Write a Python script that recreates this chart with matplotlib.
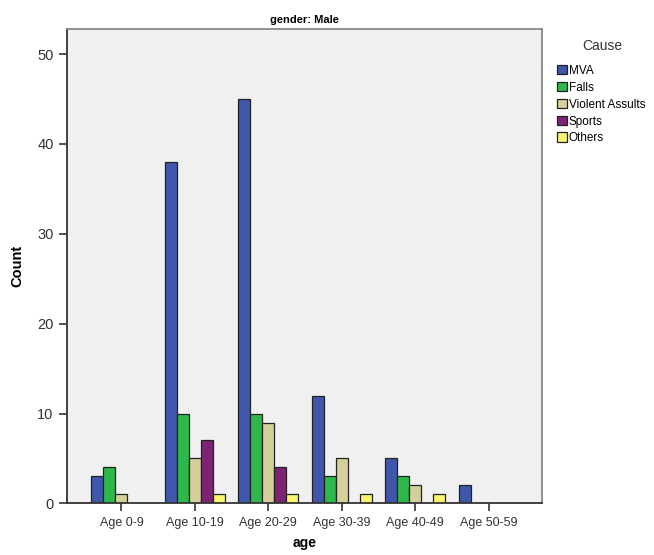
import matplotlib
matplotlib.use("Agg")
import matplotlib.pyplot as plt
import numpy as np

# data
ages = ["Age 0-9", "Age 10-19", "Age 20-29", "Age 30-39", "Age 40-49", "Age 50-59"]
causes = ["MVA", "Falls", "Violent Assults", "Sports", "Others"]
mva = [3, 38, 45, 12, 5, 2]
falls = [4, 10, 10, 3, 3, 0]
violent = [1, 5, 9, 5, 2, 0]
sports = [0, 7, 4, 0, 0, 0]
others = [0, 1, 1, 1, 1, 0]
colors = ["#3F57AA", "#2EB84B", "#D5D09A", "#7D2275", "#F9F66E"]

plt.rcParams['font.family'] = ['Liberation Sans', 'DejaVu Sans']

fig = plt.figure(figsize=(6.54, 5.55), dpi=100)
ax = fig.add_axes([0.102, 0.093, 0.727, 0.855])
ax.set_facecolor("#F0F0F0")

x = np.arange(len(ages))
w = 0.163
series = [mva, falls, violent, sports, others]
for i, (vals, c, name) in enumerate(zip(series, colors, causes)):
    vals = np.array(vals)
    pos = x + (i - 2) * w
    # zero counts get no bar
    m = vals > 0
    ax.bar(pos[m], vals[m], width=w, color=c, edgecolor="#222222", linewidth=0.9, label=name)

ax.set_xlim(-0.745, 5.73)
ax.set_ylim(0, 52.8)
ax.set_yticks([0, 10, 20, 30, 40, 50])
ax.set_xticks(x)
ax.set_xticklabels(ages, fontsize=9, color="#333333")
ax.tick_params(axis="y", labelsize=10.5, colors="#333333", length=6, width=1.2)
ax.tick_params(axis="x", length=6, width=1.2, color="#333333", pad=4)

for s in ["left", "bottom"]:
    ax.spines[s].set_color("#333333")
    ax.spines[s].set_linewidth(1.3)
for s in ["top", "right"]:
    ax.spines[s].set_color("#888888")
    ax.spines[s].set_linewidth(1.3)

ax.set_ylabel("Count", fontsize=10.5, fontweight="bold", labelpad=9)
ax.set_xlabel("age", fontsize=10, fontweight="bold", labelpad=5)
ax.set_title("gender: Male", fontsize=8, fontweight="bold", pad=4)

leg = ax.legend(loc="upper left", bbox_to_anchor=(1.008, 0.947),
                frameon=False, fontsize=8.5,
                handlelength=0.9, handleheight=0.9, handletextpad=0.15,
                labelspacing=0.42, borderaxespad=0.5)
fig.text(602 / 654, 1 - 45.5 / 555, "Cause", fontsize=10, color="#333333",
         ha="center", va="center")

fig.savefig("out.png", dpi=100)
